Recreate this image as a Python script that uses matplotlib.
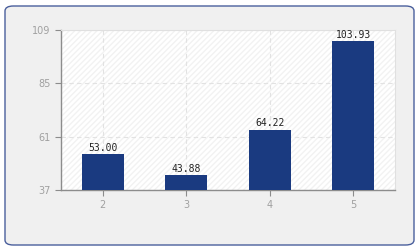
import matplotlib.pyplot as plt
from matplotlib.patches import FancyBboxPatch

categories = ['2', '3', '4', '5']
values = [53.00, 43.88, 64.22, 103.93]
y_ticks = [37, 61, 85, 109]

fig = plt.figure(figsize=(4.2, 2.5), dpi=100)
fig.patch.set_facecolor('white')

# outer rounded panel
panel = FancyBboxPatch((5 / 420, 5 / 250), 409 / 420, 239 / 250,
                       boxstyle='round,pad=0,rounding_size=0.02',
                       transform=fig.transFigure, facecolor='#f0f0f0',
                       edgecolor='#4a5f9c', linewidth=1.0, zorder=-10)
fig.patches.append(panel)

ax = fig.add_axes([61 / 420, 60 / 250, 334 / 420, 160 / 250])
ax.set_facecolor('white')
ax.patch.set_hatch('//////')
ax.patch.set_edgecolor('#f2f2f2')
ax.patch.set_linewidth(0)

x = list(range(len(categories)))
bars = ax.bar(x, values, width=0.5, color='#1a3a80', bottom=0, zorder=3)

ax.set_xlim(-0.5, len(categories) - 0.5)
ax.set_ylim(y_ticks[0], y_ticks[-1])
ax.set_xticks(x)
ax.set_xticklabels(categories)
ax.set_yticks(y_ticks)

ax.grid(True, color='#e2e2e2', linestyle=(0, (4, 3)), linewidth=0.8, zorder=1)
ax.set_axisbelow(True)

for sp in ['top', 'right']:
    ax.spines[sp].set_color('#e0e0e0')
for sp in ['left', 'bottom']:
    ax.spines[sp].set_color('#8c8c8c')
    ax.spines[sp].set_linewidth(1.0)

ax.tick_params(axis='both', colors='#8c8c8c', labelcolor='#a0a0a0',
               labelsize=7, length=4, width=0.8)

for xi, v in zip(x, values):
    ax.text(xi, v + 0.5, f'{v:.2f}', ha='center', va='bottom',
            fontsize=7, family='DejaVu Sans Mono', color='#222222', zorder=4)

fig.savefig('out.png', dpi=100, facecolor=fig.get_facecolor())
